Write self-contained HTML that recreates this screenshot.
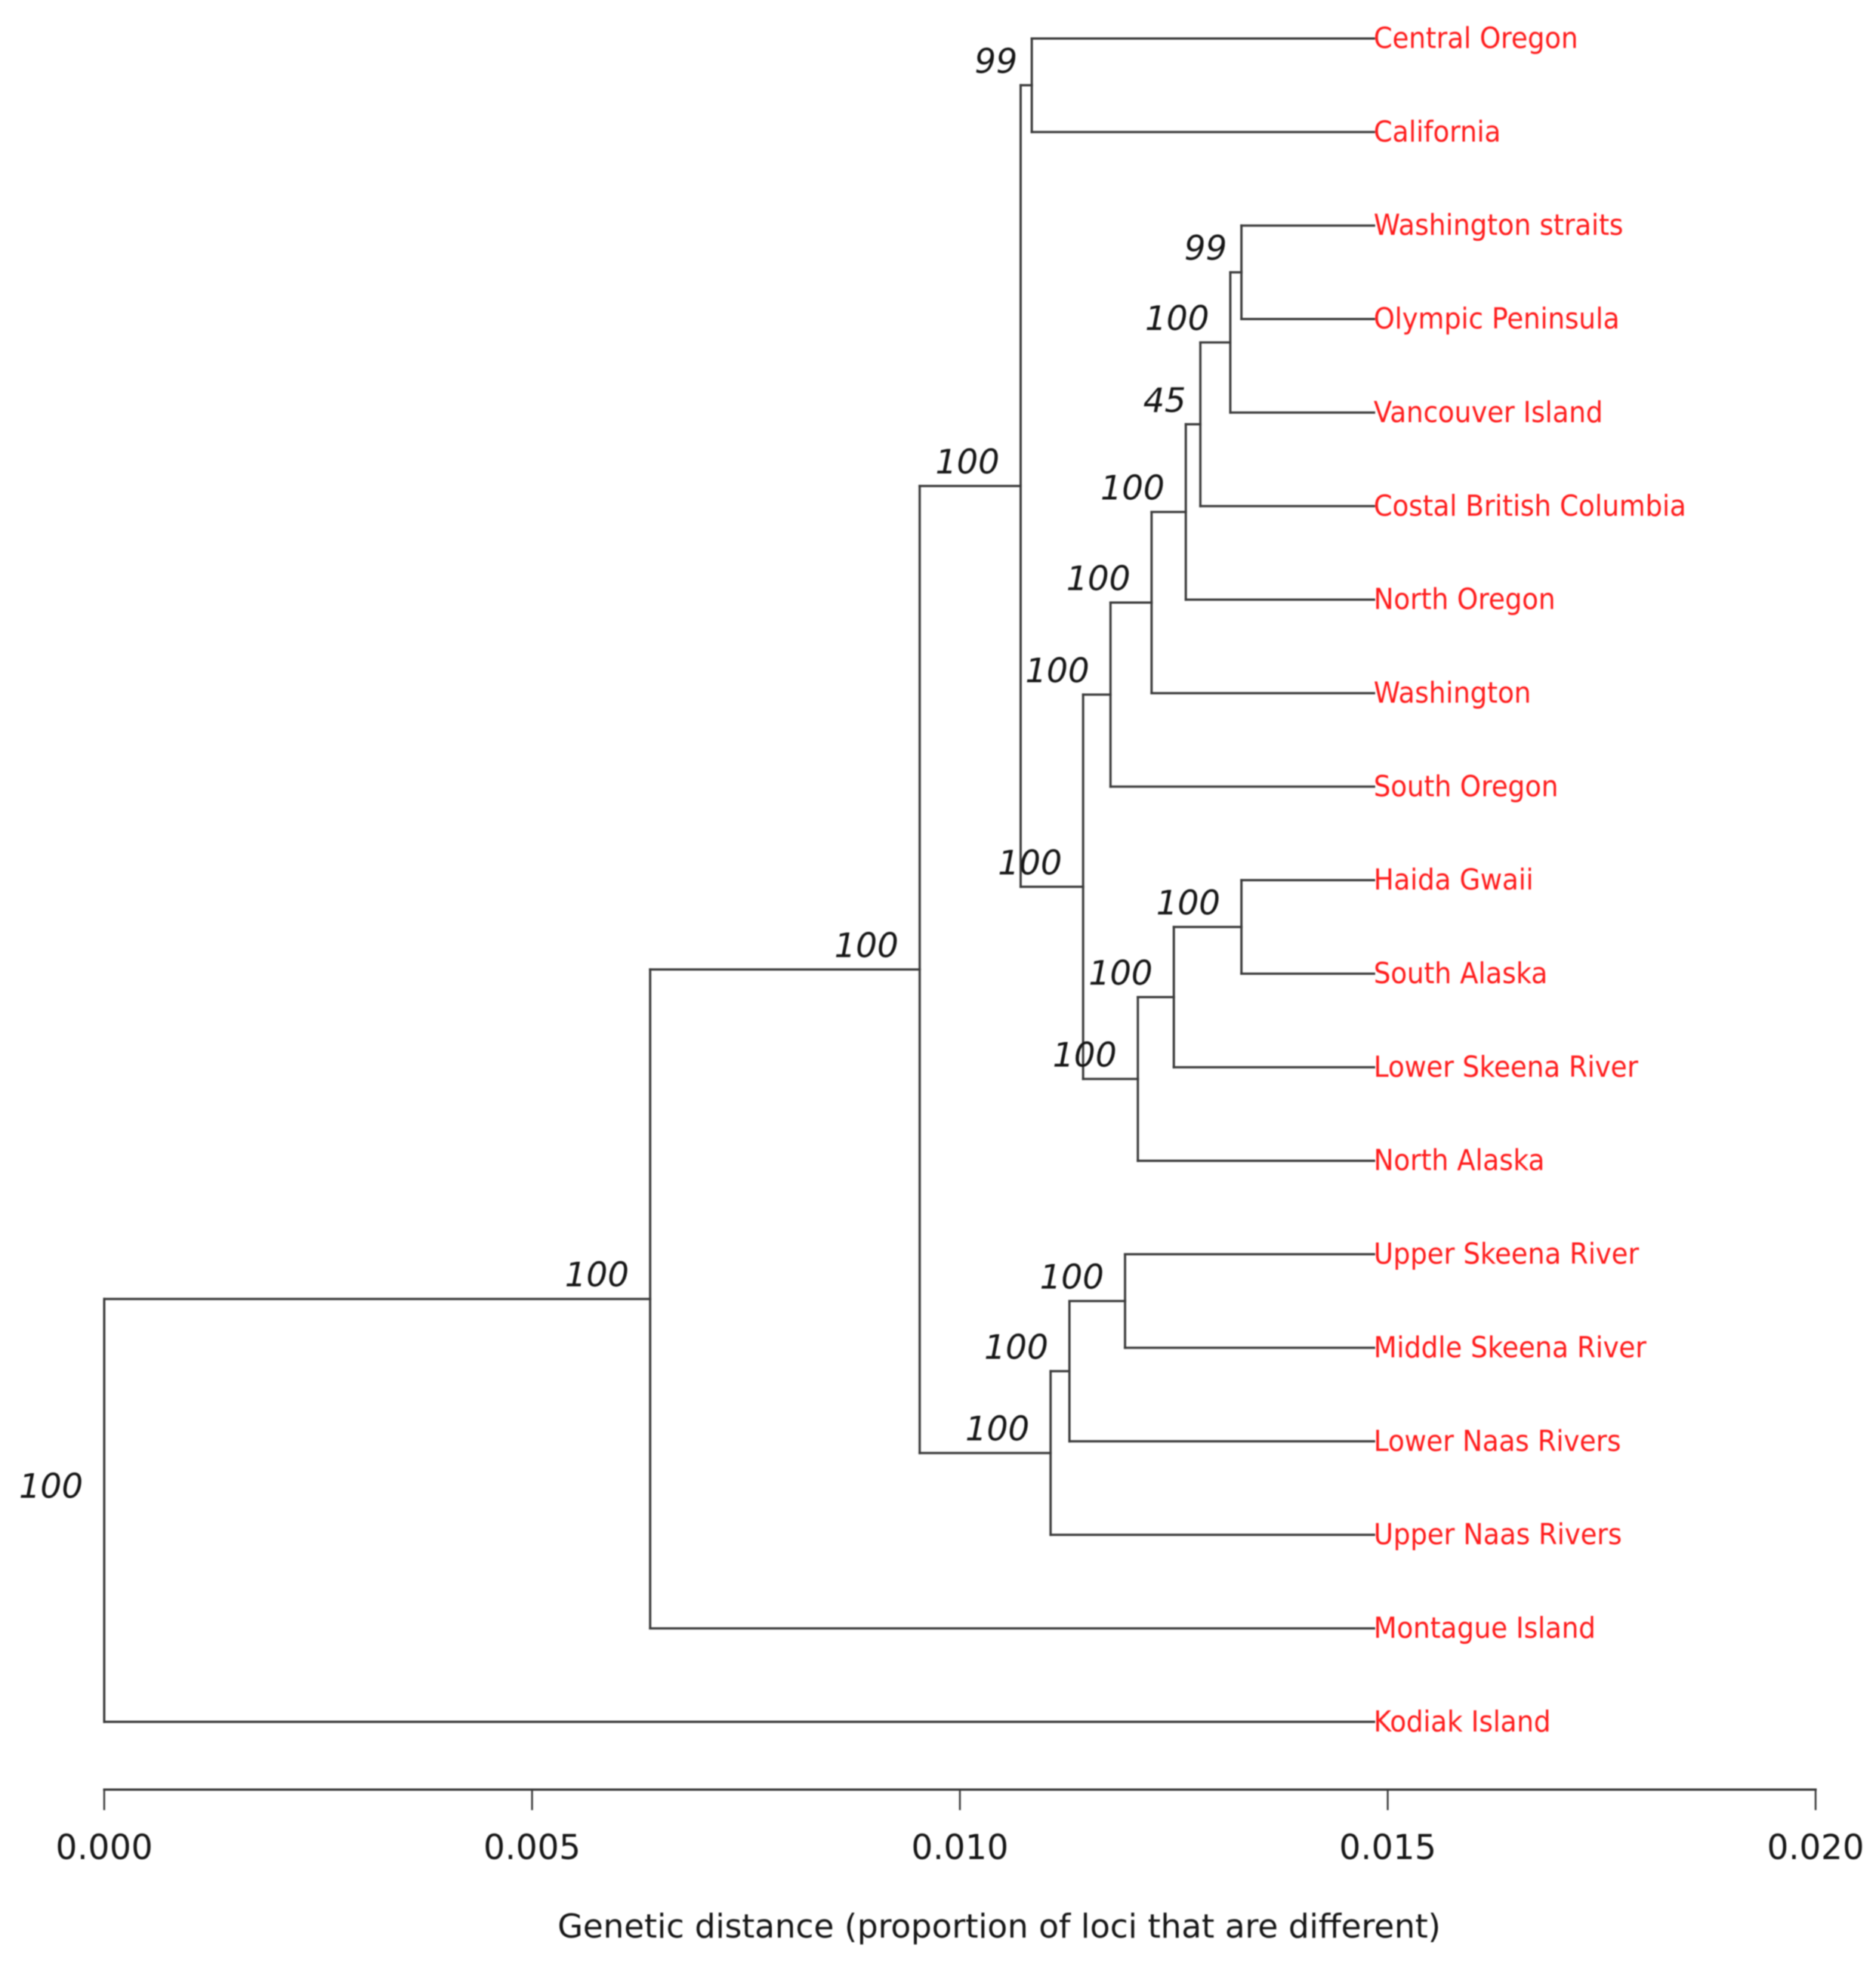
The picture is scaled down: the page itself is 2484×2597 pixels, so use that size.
<!DOCTYPE html>
<html>
<head>
<meta charset="utf-8">
<title>Genetic distance dendrogram</title>
<style>
html,body{margin:0;padding:0;background:#fff;}
svg{display:block;}
text{font-family:"DejaVu Sans","Liberation Sans",sans-serif;}
</style>
</head>
<body>
<svg id="chart" width="2484" height="2597" viewBox="0 0 2484 2597" xmlns="http://www.w3.org/2000/svg">
  <defs><filter id="soft" x="-5%" y="-5%" width="110%" height="110%"><feGaussianBlur stdDeviation="0.8"/></filter></defs>
  <rect width="2484" height="2597" fill="#fff"/>
  <g id="plot" filter="url(#soft)"></g>
</svg>
<script>
const leafNames = ["Central Oregon","California","Washington straits","Olympic Peninsula","Vancouver Island","Costal British Columbia","North Oregon","Washington","South Oregon","Haida Gwaii","South Alaska","Lower Skeena River","North Alaska","Upper Skeena River","Middle Skeena River","Lower Naas Rivers","Upper Naas Rivers","Montague Island","Kodiak Island"];
const leafDistance = 0.01484;
const nodeIds = ["root","A","B","C","E","F","G","I","J","K","L","M","H","N","O","D","P","Q"];
const nodeDistance = [0,0.00638,0.00953,0.01071,0.01084,0.01144,0.01176,0.01224,0.01264,0.01281,0.01316,0.01329,0.01208,0.0125,0.01329,0.01106,0.01128,0.01193];
const nodeFirstChild = ["A","B","C","E","Central Oregon","G","I","J","K","L","M","Washington straits","N","O","Haida Gwaii","P","Q","Upper Skeena River"];
const nodeSecondChild = ["Kodiak Island","Montague Island","D","F","California","H","South Oregon","Washington","North Oregon","Costal British Columbia","Vancouver Island","Olympic Peninsula","North Alaska","Lower Skeena River","South Alaska","Upper Naas Rivers","Lower Naas Rivers","Middle Skeena River"];
const nodeSupport = [100,100,100,100,99,100,100,100,100,45,100,99,100,100,100,100,100,100];
const axisTicks = [0,0.005,0.01,0.015,0.02];
const axisTickLabels = ["0.000","0.005","0.010","0.015","0.020"];
const axisTitle = "Genetic distance (proportion of loci that are different)";

const plot = document.getElementById('plot');
const NS = 'http://www.w3.org/2000/svg';
const xScale = d => 138 + d * 113300;
const yScale = i => 51 + i * 123.85;
const INK = '#3a3a3a';

function line(x1, y1, x2, y2, w) {
  const el = document.createElementNS(NS, 'line');
  el.setAttribute('x1', x1);
  el.setAttribute('y1', y1);
  el.setAttribute('x2', x2);
  el.setAttribute('y2', y2);
  el.setAttribute('stroke', INK);
  el.setAttribute('stroke-width', w);
  el.setAttribute('stroke-linecap', 'square');
  plot.appendChild(el);
  return el;
}
function label(str, x, y, size, fill, anchor, italic) {
  const el = document.createElementNS(NS, 'text');
  el.setAttribute('x', x);
  el.setAttribute('y', y);
  el.setAttribute('font-size', size);
  el.setAttribute('fill', fill);
  el.setAttribute('text-anchor', anchor);
  if (italic) el.setAttribute('font-style', 'italic');
  el.textContent = str;
  plot.appendChild(el);
  return el;
}
function position(id) {
  const li = leafNames.indexOf(id);
  if (li >= 0) return { x: xScale(leafDistance), y: yScale(li) };
  const k = nodeIds.indexOf(id);
  const a = position(nodeFirstChild[k]);
  const b = position(nodeSecondChild[k]);
  return { x: xScale(nodeDistance[k]), y: (a.y + b.y) / 2, a: a, b: b };
}

nodeIds.forEach(function (id, k) {
  const p = position(id);
  const v = line(p.x, p.a.y, p.x, p.b.y, 3);
  
  
  const h1 = line(p.x, p.a.y, p.a.x, p.a.y, 3);
  
  
  const h2 = line(p.x, p.b.y, p.b.x, p.b.y, 3);
  
  
  const gap = String(nodeSupport[k]).length > 2 ? 28 : 19;
  const t = label(String(nodeSupport[k]), p.x - gap, p.y - 16.5, 44.5, '#151515', 'end', true);
  
  
});

leafNames.forEach(function (name, i) {
  const t = label(name, xScale(leafDistance) - 0.5, yScale(i) + 12.5, 38, '#ff1a1a', 'start', false);
  
  
  t.setAttribute('textLength', (t.getComputedTextLength() * 0.933).toFixed(1));
  t.setAttribute('lengthAdjust', 'spacingAndGlyphs');
});

const axisLine = line(xScale(axisTicks[0]), 2370, xScale(axisTicks[axisTicks.length - 1]), 2370, 3);


axisTicks.forEach(function (v, i) {
  const tk = line(xScale(v), 2370, xScale(v), 2396, 2.4);
  
  
  const tl = label(axisTickLabels[i], xScale(v), 2462, 45, '#151515', 'middle', false);
  
  
});
const title = label(axisTitle, 1323, 2566, 43.5, '#151515', 'middle', false);


</script>
</body>
</html>
